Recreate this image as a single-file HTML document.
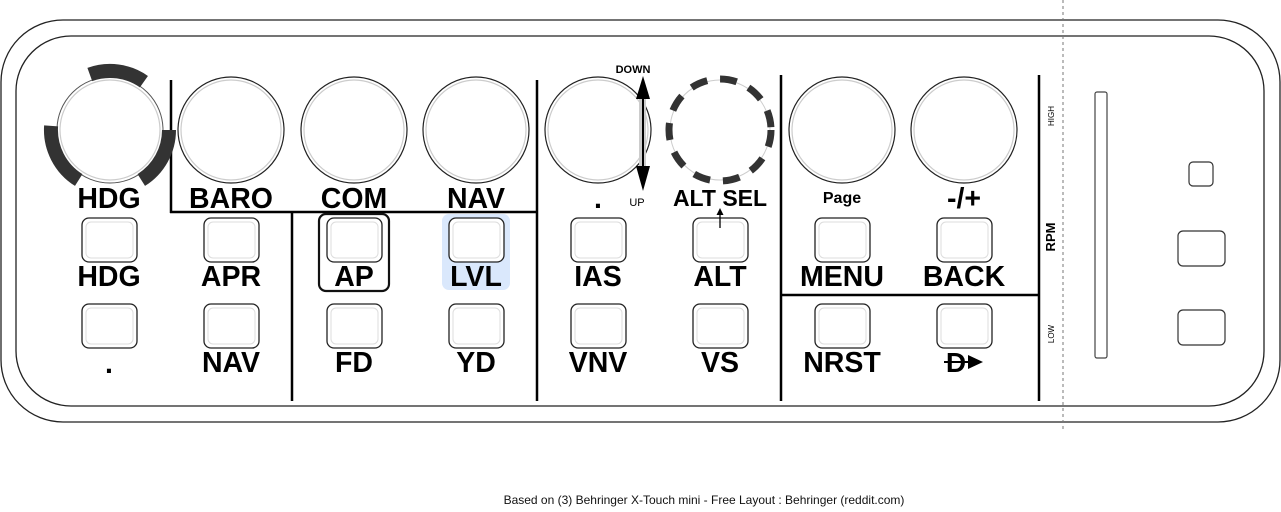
<!DOCTYPE html>
<html><head><meta charset="utf-8"><style>
html,body{margin:0;padding:0;background:#fff;}
svg{display:block;font-family:"Liberation Sans",Arial,sans-serif;}
.k{fill:#fff;stroke:#222;stroke-width:1.2}
.ki{fill:none;stroke:#ccc;stroke-width:1.2}
.L{font-weight:bold;font-size:28.5px;text-anchor:middle;fill:#000}
.ln{stroke:#000;stroke-width:2.5}
</style></head><body>
<svg width="1281" height="512" viewBox="0 0 1281 512">
<defs>
<g id="btn"><rect x="0" y="0" width="55" height="44" rx="7" fill="#fff" stroke="#222" stroke-width="1.3"/><rect x="4" y="4" width="47" height="36" rx="5" fill="none" stroke="#ddd" stroke-width="1"/></g>
</defs>
<rect x="1" y="20" width="1279" height="402" rx="62" fill="#fff" stroke="#222" stroke-width="1.3"/>
<rect x="16" y="36" width="1248" height="370" rx="55" fill="#fff" stroke="#222" stroke-width="1.3"/>
<line x1="1063" y1="0" x2="1063" y2="430" stroke="#777" stroke-width="1" stroke-dasharray="3,3"/>

<line class="ln" x1="171" y1="80" x2="171" y2="213"/>
<line class="ln" x1="170" y1="212" x2="536" y2="212"/>
<line class="ln" x1="292" y1="212" x2="292" y2="401"/>
<line class="ln" x1="537" y1="80" x2="537" y2="401"/>
<line class="ln" x1="781" y1="75" x2="781" y2="401"/>
<line class="ln" x1="780" y1="295" x2="1039" y2="295"/>
<line class="ln" x1="1039" y1="75" x2="1039" y2="401"/>

<circle cx="110" cy="130" r="53" fill="#fff" stroke="#555" stroke-width="1"/><circle cx="110" cy="130" r="50" class="ki"/>
<path d="M89.8,74.5 A59,59 0 0 1 143.9,81.7 M78.7,180 A59,59 0 0 1 51.1,125.9 M169,130 A59,59 0 0 1 141.3,180" fill="none" stroke="#333" stroke-width="14"/>
<circle cx="231" cy="130" r="53" class="k"/><circle cx="231" cy="130" r="50" class="ki"/>
<circle cx="354" cy="130" r="53" class="k"/><circle cx="354" cy="130" r="50" class="ki"/>
<circle cx="476" cy="130" r="53" class="k"/><circle cx="476" cy="130" r="50" class="ki"/>
<circle cx="598" cy="130" r="53" class="k"/><circle cx="598" cy="130" r="50" class="ki"/>
<circle cx="720" cy="130" r="50" fill="#fff" stroke="#ccc" stroke-width="1"/>
<circle cx="720" cy="130" r="51" fill="none" stroke="#333" stroke-width="7" stroke-dasharray="17,13"/>
<circle cx="842" cy="130" r="53" class="k"/><circle cx="842" cy="130" r="50" class="ki"/>
<circle cx="964" cy="130" r="53" class="k"/><circle cx="964" cy="130" r="50" class="ki"/>

<rect x="639" y="97" width="7" height="72" fill="#ccc"/>
<line x1="643" y1="90" x2="643" y2="175" stroke="#000" stroke-width="2"/>
<polygon points="643,76 636,99 650,99" fill="#000"/>
<polygon points="643,191 636,166 650,166" fill="#000"/>
<text x="633" y="73" font-size="11" font-weight="bold" text-anchor="middle">DOWN</text>
<text x="637" y="206" font-size="11" text-anchor="middle">UP</text>

<text class="L" x="109" y="208">HDG</text>
<text class="L" x="231" y="208">BARO</text>
<text class="L" x="354" y="208">COM</text>
<text class="L" x="476" y="208">NAV</text>
<text class="L" x="598" y="208">.</text>
<text class="L" x="720" y="206" style="font-size:23px">ALT SEL</text>
<text x="842" y="203" font-size="16" font-weight="bold" text-anchor="middle">Page</text>
<text class="L" x="964" y="208">-/+</text>

<rect x="319" y="214" width="70" height="77" rx="7" fill="none" stroke="#111" stroke-width="2.2"/>
<rect x="442" y="214" width="68" height="76" rx="7" fill="#dae8fc"/>

<use href="#btn" x="82" y="218"/><use href="#btn" x="204" y="218"/><use href="#btn" x="327" y="218"/><use href="#btn" x="449" y="218"/>
<use href="#btn" x="571" y="218"/><use href="#btn" x="693" y="218"/><use href="#btn" x="815" y="218"/><use href="#btn" x="937" y="218"/>
<use href="#btn" x="82" y="304"/><use href="#btn" x="204" y="304"/><use href="#btn" x="327" y="304"/><use href="#btn" x="449" y="304"/>
<use href="#btn" x="571" y="304"/><use href="#btn" x="693" y="304"/><use href="#btn" x="815" y="304"/><use href="#btn" x="937" y="304"/>

<line x1="720" y1="228" x2="720" y2="214" stroke="#000" stroke-width="1.3"/>
<polygon points="720,208 716.5,215 723.5,215" fill="#000"/>

<text class="L" x="109" y="286">HDG</text>
<text class="L" x="231" y="286">APR</text>
<text class="L" x="354" y="286">AP</text>
<text class="L" x="476" y="286">LVL</text>
<text class="L" x="598" y="286">IAS</text>
<text class="L" x="720" y="286">ALT</text>
<text class="L" x="842" y="286">MENU</text>
<text class="L" x="964" y="286">BACK</text>
<text class="L" x="109" y="373">.</text>
<text class="L" x="231" y="372">NAV</text>
<text class="L" x="354" y="372">FD</text>
<text class="L" x="476" y="372">YD</text>
<text class="L" x="598" y="372">VNV</text>
<text class="L" x="720" y="372">VS</text>
<text class="L" x="842" y="372">NRST</text>
<text x="956" y="372" font-size="28" font-weight="bold" text-anchor="middle">D</text>
<line x1="944" y1="362" x2="970" y2="362" stroke="#000" stroke-width="2"/>
<polygon points="968,355 983,362 968,369" fill="#000"/>

<text transform="translate(1055,237) rotate(-90)" font-size="13" font-weight="bold" text-anchor="middle">RPM</text>
<text transform="translate(1054,116) rotate(-90)" font-size="8" text-anchor="middle">HIGH</text>
<text transform="translate(1054,334) rotate(-90)" font-size="8" text-anchor="middle">LOW</text>
<rect x="1095" y="92" width="12" height="266" rx="2" fill="#fff" stroke="#444" stroke-width="1.2"/>

<rect x="1189" y="162" width="24" height="24" rx="4" fill="#fff" stroke="#333" stroke-width="1.2"/>
<rect x="1178" y="231" width="47" height="35" rx="5" fill="#fff" stroke="#333" stroke-width="1.2"/>
<rect x="1178" y="310" width="47" height="35" rx="5" fill="#fff" stroke="#333" stroke-width="1.2"/>

<text x="704" y="504" font-size="12" text-anchor="middle" fill="#111">Based on (3) Behringer X-Touch mini - Free Layout : Behringer (reddit.com)</text>
</svg>
</body></html>
